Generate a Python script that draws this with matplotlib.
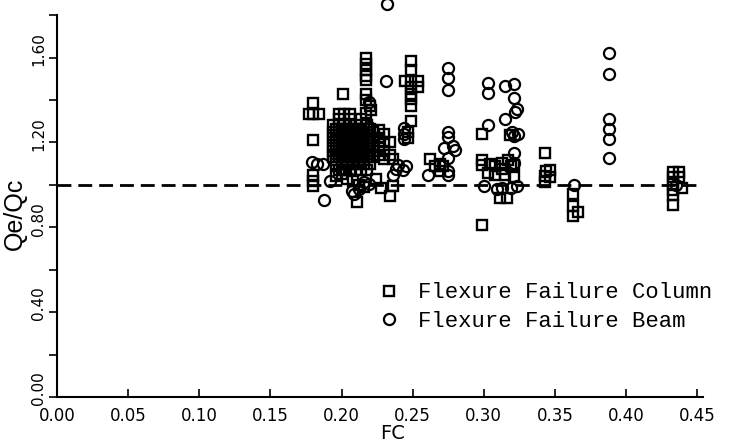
import matplotlib
matplotlib.use("Agg")
import matplotlib.pyplot as plt
import matplotlib.transforms as mtransforms

# Flexure failure column (squares)
col_fc = [0.180, 0.177, 0.180, 0.184, 0.180, 0.180, 0.180, 0.180,
          0.201, 0.198, 0.202, 0.206,
          0.217, 0.217, 0.217, 0.217, 0.217, 0.217, 0.217, 0.220, 0.217, 0.221,
          0.198, 0.206, 0.214,
          0.194, 0.198, 0.202, 0.206, 0.210, 0.218,
          0.194, 0.198, 0.202, 0.206, 0.210, 0.214, 0.218, 0.222,
          0.194, 0.198, 0.202, 0.206, 0.210, 0.214, 0.218, 0.222,
          0.194, 0.198, 0.202, 0.206, 0.210, 0.214, 0.218, 0.222,
          0.194, 0.198, 0.202, 0.206, 0.210, 0.214, 0.218, 0.222,
          0.194, 0.198, 0.202, 0.206, 0.210, 0.214, 0.218, 0.222,
          0.196, 0.200, 0.204, 0.208, 0.212, 0.216, 0.220,
          0.198, 0.202, 0.206, 0.210, 0.214, 0.218,
          0.196, 0.200, 0.204, 0.208, 0.212, 0.216, 0.220,
          0.196, 0.200, 0.204, 0.208, 0.212, 0.216, 0.220,
          0.196, 0.200, 0.204, 0.208, 0.212, 0.216, 0.220,
          0.196, 0.200, 0.204, 0.208, 0.212, 0.216, 0.220,
          0.196, 0.200, 0.204, 0.208, 0.212, 0.216, 0.220,
          0.196, 0.200, 0.204, 0.208, 0.212, 0.216,
          0.226, 0.230, 0.226, 0.230, 0.234, 0.226, 0.230, 0.234, 0.226, 0.230, 0.236,
          0.200, 0.204, 0.208, 0.212, 0.216, 0.211, 0.234, 0.228, 0.236, 0.224, 0.196,
          0.249, 0.249, 0.2447, 0.249, 0.254, 0.249, 0.254, 0.249, 0.249, 0.249, 0.249, 0.247, 0.247,
          0.262, 0.269, 0.269, 0.266, 0.271,
          0.2987, 0.2987, 0.2987, 0.304, 0.308, 0.313, 0.317, 0.319, 0.321, 0.313,
          0.303, 0.308, 0.315, 0.321, 0.3115, 0.316, 0.2987, 0.3185,
          0.3427, 0.3435, 0.3467, 0.3427, 0.3467, 0.3427,
          0.3625, 0.3625, 0.3665, 0.3625,
          0.433, 0.437, 0.433, 0.437, 0.433, 0.439, 0.433, 0.433, 0.433]
col_q = [1.386, 1.333, 1.333, 1.333, 1.210, 1.048, 1.019, 0.995,
         1.427, 1.335, 1.335, 1.335,
         1.600, 1.570, 1.540, 1.515, 1.495, 1.430, 1.400, 1.370, 1.340, 1.355,
         1.31, 1.31, 1.31,
         1.28, 1.28, 1.28, 1.28, 1.28, 1.28,
         1.25, 1.25, 1.25, 1.25, 1.25, 1.25, 1.25, 1.25,
         1.22, 1.22, 1.22, 1.22, 1.22, 1.22, 1.22, 1.22,
         1.19, 1.19, 1.19, 1.19, 1.19, 1.19, 1.19, 1.19,
         1.16, 1.16, 1.16, 1.16, 1.16, 1.16, 1.16, 1.16,
         1.13, 1.13, 1.13, 1.13, 1.13, 1.13, 1.13, 1.13,
         1.10, 1.10, 1.10, 1.10, 1.10, 1.10, 1.10,
         1.07, 1.07, 1.07, 1.07, 1.07, 1.07,
         1.265, 1.265, 1.265, 1.265, 1.265, 1.265, 1.265,
         1.235, 1.235, 1.235, 1.235, 1.235, 1.235, 1.235,
         1.205, 1.205, 1.205, 1.205, 1.205, 1.205, 1.205,
         1.175, 1.175, 1.175, 1.175, 1.175, 1.175, 1.175,
         1.145, 1.145, 1.145, 1.145, 1.145, 1.145, 1.145,
         1.115, 1.115, 1.115, 1.115, 1.115, 1.115,
         1.26, 1.24, 1.22, 1.20, 1.20, 1.18, 1.16, 1.14, 1.14, 1.12, 1.12,
         1.05, 1.03, 1.02, 1.00, 0.99, 0.92, 0.946, 0.986, 0.995, 1.03, 1.04,
         1.585, 1.54, 1.49, 1.49, 1.49, 1.46, 1.46, 1.43, 1.405, 1.37, 1.30, 1.25, 1.22,
         1.12, 1.10, 1.065, 1.09, 1.09,
         1.24, 1.115, 1.095, 1.10, 1.09, 1.105, 1.115, 1.09, 1.095, 1.075,
         1.055, 1.045, 1.045, 1.035, 0.94, 0.94, 0.81, 1.235,
         1.15, 1.065, 1.07, 1.04, 1.035, 1.015,
         0.955, 0.90, 0.87, 0.855,
         1.06, 1.06, 1.035, 1.035, 1.005, 0.985, 0.975, 0.95, 0.905]

# Flexure failure beam (circles)
beam_fc = [0.232, 0.231, 0.219, 0.214, 0.219,
           0.179, 0.183, 0.187, 0.192, 0.188,
           0.207, 0.212, 0.209, 0.219, 0.216,
           0.245, 0.243, 0.238, 0.240, 0.236,
           0.2436, 0.2436, 0.2436,
           0.275, 0.275, 0.275, 0.275, 0.275, 0.272, 0.278, 0.280, 0.275, 0.275, 0.275, 0.261,
           0.303, 0.303, 0.315, 0.321, 0.321, 0.3235, 0.322, 0.303, 0.315, 0.3195,
           0.324, 0.321, 0.321, 0.321, 0.300, 0.309, 0.313, 0.319, 0.323,
           0.3635,
           0.388, 0.388, 0.388, 0.388, 0.388, 0.388,
           0.435]
beam_q = [1.855, 1.49, 1.39, 1.265, 1.275,
          1.11, 1.10, 1.10, 1.02, 0.93,
          0.97, 0.98, 0.955, 1.005, 1.015,
          1.09, 1.07, 1.075, 1.095, 1.045,
          1.27, 1.24, 1.215,
          1.55, 1.505, 1.445, 1.25, 1.225, 1.175, 1.185, 1.165, 1.125, 1.065, 1.045, 1.045,
          1.48, 1.435, 1.465, 1.475, 1.41, 1.36, 1.345, 1.28, 1.31, 1.25,
          1.24, 1.23, 1.15, 1.105, 0.995, 0.98, 0.985, 0.985, 0.995,
          1.00,
          1.62, 1.525, 1.31, 1.265, 1.215, 1.125,
          1.00]

ref_ratio = 1.0
x_ticks = [0.00, 0.05, 0.10, 0.15, 0.20, 0.25, 0.30, 0.35, 0.40, 0.45]
y_major = [0.0, 0.4, 0.8, 1.2, 1.6]
y_minor = [0.2, 0.6, 1.0, 1.4, 1.8]

fig = plt.figure(figsize=(7.29, 4.45), dpi=100)
ax = fig.add_axes([0.0782, 0.1079, 0.886, 0.858])

ax.plot(col_fc, col_q, linestyle='none', marker='s', ms=7.5, mfc='none', mec='black', mew=1.7,
        clip_on=False, label='Flexure Failure Column')
ax.plot(beam_fc, beam_q, linestyle='none', marker='o', ms=8, mfc='none', mec='black', mew=1.6,
        clip_on=False, label='Flexure Failure Beam')
ax.axhline(ref_ratio, color='black', lw=2, linestyle=(0, (5, 2.5)))

ax.set_xlim(0, 0.454)
ax.set_ylim(0, 1.8)
for s in ['top', 'right']:
    ax.spines[s].set_visible(False)
ax.spines['left'].set_linewidth(1.5)
ax.spines['bottom'].set_linewidth(1.5)

ax.set_xticks(x_ticks)
ax.set_xticklabels([f"{v:.2f}" for v in x_ticks], fontsize=12)
ax.set_yticks(y_major)
ax.set_yticks(y_minor, minor=True)
ax.set_yticklabels([f"{v:.2f}" for v in y_major], fontsize=11, rotation=90, va='bottom')
ax.tick_params(axis='x', direction='in', length=6, width=1.2, pad=7)
ax.tick_params(axis='y', which='both', direction='out', length=6, width=1.2, pad=2)

offset = mtransforms.ScaledTranslation(0, -6 / 72, fig.dpi_scale_trans)
for lab in ax.get_yticklabels():
    lab.set_transform(lab.get_transform() + offset)

ax.set_xlabel('FC', fontsize=14)
ax.xaxis.set_label_coords(0.52, -0.07)
ax.set_ylabel('Qe/Qc', fontsize=18, family='Liberation Sans')
ax.yaxis.set_label_coords(-0.047, 0.48)

ax.legend(loc='upper left', bbox_to_anchor=(0.5, 0.3), frameon=False,
          prop={'family': 'Liberation Mono', 'size': 16}, handlelength=0.8,
          handletextpad=0.9, labelspacing=0.35, borderpad=0, borderaxespad=0)

fig.savefig('out.png', dpi=100)
